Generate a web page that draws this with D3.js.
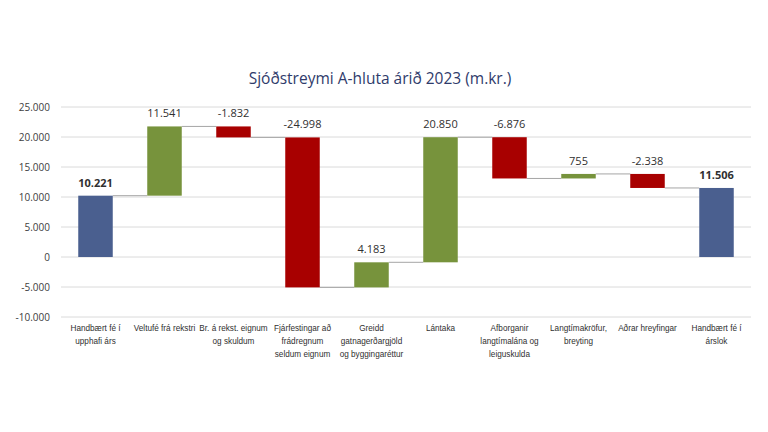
<!DOCTYPE html>
<html>
<head>
<meta charset="utf-8">
<script src="https://d3js.org/d3.v7.min.js"></script>
<style>
  body { margin: 0; background: #fff; }
  svg { display: block; }
</style>
</head>
<body>
<div id="chart"></div>
<script>
// data
var categories = [
  ["Handbært fé í", "upphafi árs"],
  ["Veltufé frá rekstri"],
  ["Br. á rekst. eignum", "og skuldum"],
  ["Fjárfestingar að", "frádregnum", "seldum eignum"],
  ["Greidd", "gatnagerðargjöld", "og byggingaréttur"],
  ["Lántaka"],
  ["Afborganir", "langtímalána og", "leiguskulda"],
  ["Langtímakröfur,", "breyting"],
  ["Aðrar hreyfingar"],
  ["Handbært fé í", "árslok"]
];
var changes = [10221, 11541, -1832, -24998, 4183, 20850, -6876, 755, -2338, 11506];
var kinds = ["total", "step", "step", "step", "step", "step", "step", "step", "step", "total"];
var yTicks = [-10000, -5000, 0, 5000, 10000, 15000, 20000, 25000];

var width = 768, height = 432;
var margin = {left: 61, right: 17, top: 107, bottom: 115};

var svg = d3.select("#chart").append("svg")
  .attr("width", width)
  .attr("height", height);

// running totals
var rows = [];
var running = 0;
changes.forEach(function(v, i) {
  var start, end;
  if (kinds[i] == "total") { start = 0; end = v; running = v; }
  else { start = running; end = running + v; running = end; }
  rows.push({i: i, v: v, start: start, end: end, kind: kinds[i]});
});

var xs = d3.scaleBand().domain(d3.range(categories.length))
  .range([margin.left, width - margin.right]).paddingInner(0.5).paddingOuter(0.25);
var ys = d3.scaleLinear().domain([-10000, 25000]).range([height - margin.bottom, margin.top]);

// icelandic style: dot thousands, plain hyphen minus
var fmt = function(d) { return d3.format(",")(d).replace(/,/g, ".").replace("\u2212", "-"); };

// gridlines
svg.append("g").selectAll("line")
  .data(yTicks).enter().append("line")
  .attr("x1", margin.left).attr("x2", width - margin.right)
  .attr("y1", function(d) { return ys(d); }).attr("y2", function(d) { return ys(d); })
  .attr("stroke", "#dadada").attr("stroke-width", 1);

// y axis
var yAxis = svg.append("g")
  .attr("transform", "translate(" + (margin.left - 8) + ",0)")
  .call(d3.axisLeft(ys).tickValues(yTicks).tickSize(0).tickFormat(fmt));
yAxis.select(".domain").remove();
yAxis.selectAll("text")
  .style("font-family", "'Open Sans', sans-serif")
  .style("font-size", "10px")
  .attr("fill", "#404040");

// connectors
svg.append("g").selectAll("line")
  .data(rows.slice(0, rows.length - 1)).enter().append("line")
  .attr("x1", function(d) { return xs(d.i) + xs.bandwidth(); })
  .attr("x2", function(d) { return xs(d.i + 1); })
  .attr("y1", function(d) { return ys(d.end); })
  .attr("y2", function(d) { return ys(d.end); })
  .attr("stroke", "#a6a6a6").attr("stroke-width", 1);

var color = function(d) {
  if (d.kind == "total") return "#4a5f8f";
  return d.v >= 0 ? "#77933c" : "#a80000";
};

// bars
svg.append("g").selectAll("rect")
  .data(rows).enter().append("rect")
  .attr("x", function(d) { return xs(d.i); })
  .attr("width", xs.bandwidth())
  .attr("y", function(d) { return ys(Math.max(d.start, d.end)); })
  .attr("height", function(d) { return Math.abs(ys(d.start) - ys(d.end)); })
  .attr("fill", color);

// value labels
svg.append("g").selectAll("text")
  .data(rows).enter().append("text")
  .attr("x", function(d) { return xs(d.i) + xs.bandwidth() / 2; })
  .attr("y", function(d) { return ys(Math.max(d.start, d.end)) - 9; })
  .attr("text-anchor", "middle")
  .style("font-family", "'Open Sans', sans-serif")
  .style("font-size", "11px")
  .style("font-weight", function(d) { return d.kind == "total" ? "bold" : "normal"; })
  .attr("fill", "#303030")
  .text(function(d) { return fmt(d.v); });

// category labels
var cats = svg.append("g").selectAll("text")
  .data(categories).enter().append("text")
  .attr("x", function(d, i) { return xs(i) + xs.bandwidth() / 2; })
  .attr("y", height - margin.bottom + 14)
  .attr("text-anchor", "middle")
  .style("font-family", "'Liberation Sans', sans-serif")
  .style("font-size", "8.2px")
  .attr("fill", "#303030");
cats.selectAll("tspan")
  .data(function(d) { return d; }).enter().append("tspan")
  .attr("x", function() { return d3.select(this.parentNode).attr("x"); })
  .attr("dy", function(d, j) { return j == 0 ? 0 : 13; })
  .text(function(d) { return d; });

// title
svg.append("text")
  .attr("x", 380).attr("y", 84)
  .attr("text-anchor", "middle")
  .style("font-family", "'Open Sans', sans-serif")
  .style("font-size", "15.5px")
  .attr("fill", "#2f3b6b")
  .text("Sjóðstreymi A-hluta árið 2023 (m.kr.)");
</script>
</body>
</html>
